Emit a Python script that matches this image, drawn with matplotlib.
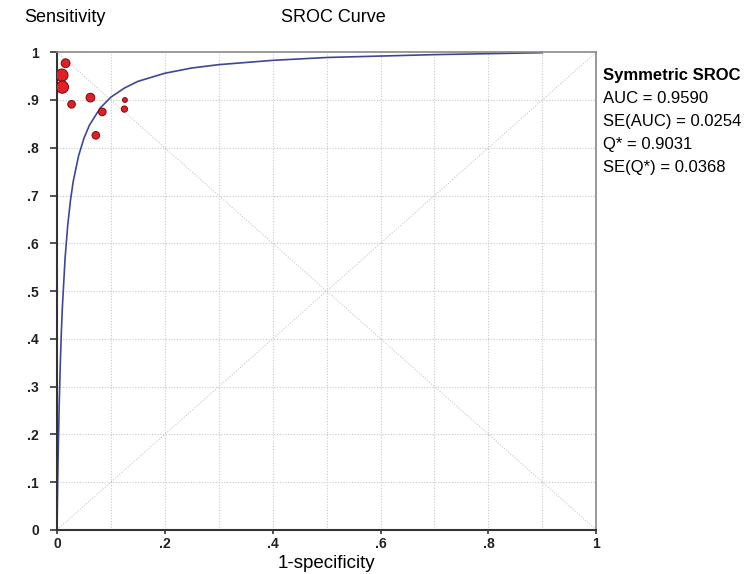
import numpy as np
import matplotlib
matplotlib.use('Agg')
import matplotlib.pyplot as plt

plt.rcParams['font.family'] = ['Liberation Sans', 'DejaVu Sans']

# study points (1-specificity, sensitivity) and marker weights
fpr = [0.016, 0.009, 0.010, 0.027, 0.062, 0.084, 0.072, 0.126, 0.125]
sens = [0.977, 0.952, 0.927, 0.891, 0.905, 0.875, 0.826, 0.900, 0.881]
weights = [40, 78, 78, 30, 40, 30, 30, 12, 20]

# symmetric SROC curve
curve_x = [0, 0.001, 0.002, 0.004, 0.006, 0.008, 0.01, 0.015, 0.02, 0.025, 0.03,
           0.04, 0.05, 0.06, 0.08, 0.1, 0.125, 0.15, 0.2, 0.25, 0.3, 0.4, 0.5,
           0.6, 0.7, 0.8, 0.9]
curve_y = [0, 0.08, 0.148, 0.258, 0.344, 0.412, 0.467, 0.569, 0.639, 0.690, 0.729,
           0.783, 0.820, 0.847, 0.883, 0.906, 0.925, 0.939, 0.956, 0.967, 0.974,
           0.983, 0.989, 0.992, 0.995, 0.997, 0.999]

stats_title = 'Symmetric SROC'
stats_lines = ['AUC = 0.9590', 'SE(AUC) = 0.0254', 'Q* = 0.9031', 'SE(Q*) = 0.0368']

fig = plt.figure(figsize=(7.5, 5.74), dpi=100)
ax = fig.add_axes([0.076, 0.077, 0.719, 0.832])

# grid & diagonals
for v in np.arange(0.1, 1.0, 0.1):
    ax.axvline(v, color='#c8c8c8', lw=0.8, ls=(0, (1, 1.5)), zorder=0)
    ax.axhline(v, color='#c8c8c8', lw=0.8, ls=(0, (1, 1.5)), zorder=0)
ax.plot([0, 1], [0, 1], color='#c8c8c8', lw=0.8, ls=(0, (1, 1.5)), zorder=0)
ax.plot([0, 1], [1, 0], color='#c8c8c8', lw=0.8, ls=(0, (1, 1.5)), zorder=0)

ax.plot(curve_x, curve_y, color='#3c4896', lw=1.2, zorder=2)
ax.scatter(fpr, sens, s=weights, c='#e21f26', edgecolors='#7a0a0a', linewidths=0.7, zorder=3)

ax.set_xlim(0, 1)
ax.set_ylim(0, 1)
ax.set_xticks([0, 0.2, 0.4, 0.6, 0.8, 1])
ax.set_xticklabels(['0', '.2', '.4', '.6', '.8', '1'])
ax.set_yticks(np.arange(0, 1.01, 0.1))
ax.set_yticklabels(['0', '.1', '.2', '.3', '.4', '.5', '.6', '.7', '.8', '.9', '1'])
ax.tick_params(axis='y', labelsize=10, length=5, width=1.2, color='#333333', pad=8)
ax.tick_params(axis='x', labelsize=10, length=3, width=1.2, color='#333333', pad=2)
for lab in ax.get_xticklabels() + ax.get_yticklabels():
    lab.set_fontweight('bold')
    lab.set_color('#222222')

for s in ['left', 'bottom']:
    ax.spines[s].set_color('#333333')
    ax.spines[s].set_linewidth(1.5)
for s in ['top', 'right']:
    ax.spines[s].set_color('#888888')
    ax.spines[s].set_linewidth(1.2)

ax.set_xlabel('1-specificity', fontsize=13.5, labelpad=3)
fig.text(0.032, 0.985, 'Sensitivity', fontsize=13, va='top', ha='left')
fig.text(0.375, 0.985, 'SROC Curve', fontsize=13, va='top', ha='left')

fig.text(0.804, 0.869, stats_title, fontsize=12, fontweight='bold', va='center', ha='left')
for i, line in enumerate(stats_lines):
    fig.text(0.804, 0.869 - (i + 1) * 0.040, line, fontsize=12, va='center', ha='left')

fig.savefig('out.png', dpi=100)
